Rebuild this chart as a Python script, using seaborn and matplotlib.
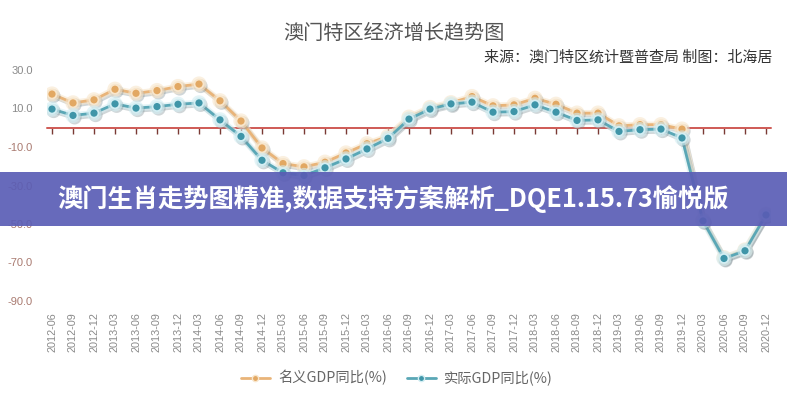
import matplotlib
matplotlib.use("Agg")
import matplotlib.pyplot as plt
import matplotlib.patheffects as pe
from matplotlib.patches import Rectangle
from matplotlib.lines import Line2D
import seaborn as sns
import numpy as np

quarters = ['2012-06', '2012-09', '2012-12',
            '2013-03', '2013-06', '2013-09', '2013-12',
            '2014-03', '2014-06', '2014-09', '2014-12',
            '2015-03', '2015-06', '2015-09', '2015-12',
            '2016-03', '2016-06', '2016-09', '2016-12',
            '2017-03', '2017-06', '2017-09', '2017-12',
            '2018-03', '2018-06', '2018-09', '2018-12',
            '2019-03', '2019-06', '2019-09', '2019-12',
            '2020-03', '2020-06', '2020-09', '2020-12']
nominal = [17.5, 12.9, 14.5, 20.0, 17.9, 19.3, 21.4, 22.7, 14.0, 3.5, -10.5,
           -18.6, -20.3, -17.9, -13.1, -8.3, -4.5, 5.5, 10.5, 13.0, 16.2,
           11.4, 11.9, 15.3, 12.2, 7.6, 7.6, 1.0, 1.6, 1.6, -0.7,
           -48.0, -67.5, -63.5, -45.0]
real = [9.7, 6.4, 7.6, 12.4, 10.2, 11.0, 12.2, 12.9, 4.1, -4.5, -16.9,
        -23.4, -24.8, -20.8, -16.2, -11.0, -5.5, 4.5, 9.7, 12.4, 13.3,
        8.1, 8.4, 11.9, 8.1, 3.8, 4.1, -1.9, -1.0, -0.7, -5.3,
        -48.4, -67.9, -63.9, -45.3]
yticks = [30, 10, -10, -30, -50, -70, -90]
series_names = ['名义GDP同比(%)', '实际GDP同比(%)']
title = '澳门特区经济增长趋势图'
source = '来源：澳门特区统计暨普查局 制图：北海居'
banner = '澳门生肖走势图精准,数据支持方案解析_DQE1.15.73愉悦版'

sns.set_theme(style='white')
plt.rcParams['font.family'] = ['Noto Sans CJK SC', 'DejaVu Sans']

W, H = 787, 400
fig = plt.figure(figsize=(W / 100, H / 100), dpi=100)
fig.patch.set_facecolor('white')

# axes: x index 0 at px 52, step 21px; y 30 at px 70, -90 at px 301
xl, xr = -0.25, 34.25
left_px = 52 + xl * 21
width_px = (xr - xl) * 21
ax = fig.add_axes([left_px / W, 1 - 301 / H, width_px / W, (301 - 70) / H])
ax.set_facecolor('none')

x = np.arange(len(quarters))
colors = {'nominal': '#e9b479', 'real': '#5aa7b6'}
mfill = {'nominal': '#e2a863', 'real': '#3f95a8'}
medge = {'nominal': '#f8e6cc', 'real': '#d3eef3'}

for key, vals in (('nominal', nominal), ('real', real)):
    sns.lineplot(x=x, y=vals, ax=ax, color=colors[key], linewidth=2.0,
                 marker='o', markersize=6.5, markerfacecolor=mfill[key],
                 markeredgecolor=medge[key], markeredgewidth=1.3,
                 path_effects=[pe.SimpleLineShadow(offset=(1.2, -1.5), shadow_color='#7a8a90', alpha=0.35, linewidth=3.5),
                               pe.Stroke(linewidth=4.5, foreground=medge[key], alpha=0.6),
                               pe.Normal()],
                 zorder=3)

ax.set_xlim(xl, xr)
ax.set_ylim(-90, 30)

# zero line with ticks
ax.axhline(0, color='#cf5a55', linewidth=1.2, zorder=2)
for s in ['top', 'right', 'left']:
    ax.spines[s].set_visible(False)
ax.spines['bottom'].set_position(('data', 0))
ax.spines['bottom'].set_color('#cf5a55')
ax.spines['bottom'].set_linewidth(1.2)

ax.set_xticks(x)
ax.set_xticklabels(quarters, rotation=90, fontsize=7.8, color='#8a8a8a',
                   family=['Liberation Sans', 'DejaVu Sans'])
ax.tick_params(axis='x', direction='out', length=4, width=1, color='#7a3a34',
               pad=129, bottom=True)
ax.set_yticks(yticks)
ax.set_yticklabels([f'{v:.1f}' for v in yticks], fontsize=8,
                   family=['Liberation Sans', 'DejaVu Sans'])
for lab, v in zip(ax.get_yticklabels(), yticks):
    lab.set_color('#8a8a8a' if v > 0 else '#a97a70')
ax.tick_params(axis='y', length=0, pad=10)
ax.set_xlabel('')
ax.set_ylabel('')

# title and source
fig.text(394 / W, 1 - 33 / H, title, ha='center', va='center', fontsize=14.5,
         color='#555555')
fig.text(772 / W, 1 - 57 / H, source, ha='right', va='center', fontsize=10.8,
         color='#333333')

# legend
handles = [Line2D([0], [0], color=colors[k], linewidth=2, marker='o', markersize=4.5,
                  markerfacecolor=mfill[k], markeredgecolor=medge[k])
           for k in ('nominal', 'real')]
fig.legend(handles, series_names, loc='center', bbox_to_anchor=(397 / W, 1 - 378 / H),
           ncol=2, frameon=False, fontsize=10.3, handlelength=2.0,
           handletextpad=0.6, columnspacing=1.4, labelcolor='#666666')

# banner overlay
fig.patches.append(Rectangle((0, 1 - 226 / H), 1, 54 / H, transform=fig.transFigure,
                             facecolor='#5a5db5', alpha=0.92, edgecolor='none', zorder=10))
fig.text(393 / W, 1 - 199 / H, banner, ha='center', va='center', fontsize=18.2,
         fontweight='bold', color='white', zorder=11)

fig.savefig('out.png', dpi=100)
